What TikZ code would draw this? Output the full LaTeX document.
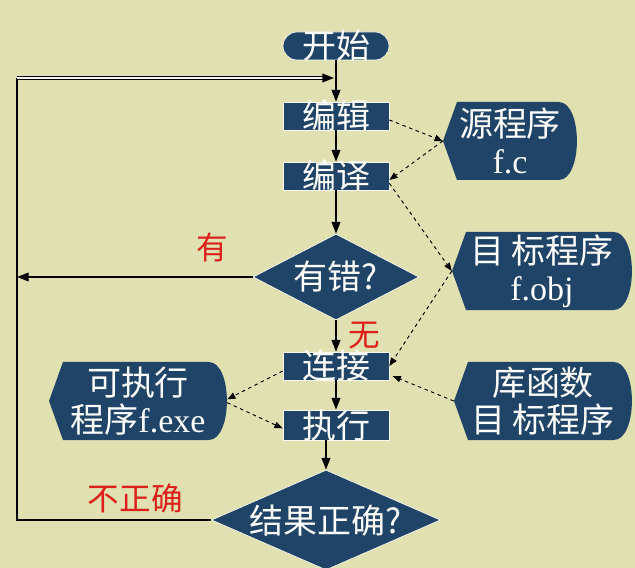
\documentclass[tikz,border=0pt]{standalone}
\usepackage{fontspec}
\setmainfont{Liberation Serif}
\newfontfamily\cjk{Noto Sans CJK SC}
\usetikzlibrary{calc,arrows.meta,shapes.geometric}
\definecolor{bg}{RGB}{224,224,176}
\definecolor{navy}{RGB}{31,68,104}
\definecolor{lblred}{RGB}{222,32,28}

\begin{document}
\begin{tikzpicture}[x=0.03cm,y=-0.03cm,
    every node/.style={font=\fontsize{29}{31.5}\selectfont\cjk,text=white},
    box/.style={rectangle,fill=navy,draw=white!80!bg,line width=0.6pt,
        minimum width=3.18cm,minimum height=0.84cm,inner sep=0pt,
        text height=0.79cm,text depth=0.01cm},
    dia/.style={diamond,aspect=2.2,fill=navy,draw=white!80!bg,line width=0.6pt,inner sep=0pt,
        text height=0.8cm,text depth=0.02cm},
    disp/.style={rectangle,minimum width=#1,minimum height=2.34cm,inner sep=0pt,align=center,
        path picture={
            \fill[navy] (path picture bounding box.west)
                -- ([xshift=0.42cm]path picture bounding box.north west)
                -- ([xshift=-0.55cm]path picture bounding box.north east)
                .. controls ([xshift=0.18cm]path picture bounding box.north east)
                and ([xshift=0.18cm]path picture bounding box.south east)
                .. ([xshift=-0.55cm]path picture bounding box.south east)
                -- ([xshift=0.42cm]path picture bounding box.south west) -- cycle;
        }},
    arr/.style={-{Triangle[length=10pt,width=7.5pt]},line width=1.1pt,black},
    darr/.style={-{Triangle[length=7pt,width=5.5pt]},line width=0.8pt,
        dash pattern=on 3pt off 3pt,black},
    dbl/.style={line width=0.7pt,double=white!70!bg,double distance=1.4pt},
    lbl/.style={text=lblred,inner sep=0pt,font=\fontsize{27}{30}\selectfont\cjk}]
    \fill[bg] (0,0) rectangle (635,568);
    \useasboundingbox (0,0) rectangle (635,568);

    % main column
    \node[box,rounded corners=0.42cm] (start) at (336,46) {开始};
    \node[box] (edit) at (336,116) {编辑};
    \node[box] (comp) at (336,176) {编译};
    \node[dia,minimum width=4.98cm,minimum height=2.58cm] (err) at (336,277) {有错?};
    \node[box] (link) at (336,366) {连接};
    \node[box,minimum height=0.9cm] (run) at (336,425) {执行};
    \node[dia,minimum width=6.87cm,minimum height=3cm] (chk) at (326,520) {结果正确?};

    % files
    \node[disp=4.02cm] (src) at (510,141) {源程序\\{\rmfamily f.c}};
    \node[disp=5.4cm] (obj) at (542,271) {目 标程序\\{\rmfamily f.obj}};
    \node[disp=5.34cm] (lib) at (543,401) {库函数\\目 标程序};
    \node[disp=5.34cm] (exe) at (138,401) {可执行\\程序{\rmfamily f.exe}};

    % loop back
    \coordinate (lt) at (17,78);
    \coordinate (lb) at (17,520);
    \coordinate (lj) at (334,78);

    \draw[arr] (start) -- (edit);
    \draw[arr] (edit) -- (comp);
    \draw[arr] (comp) -- (err);
    \draw[arr] (err) -- (link) node[lbl,midway,xshift=0.84cm] {无};
    \draw[arr] (link) -- (run);
    \draw[arr] (run.south -| chk) -- (chk);
    \draw[arr] (err) -- (err -| lt) node[lbl,pos=0.17,above=0.43cm] {有};
    \draw[line width=1.1pt] (chk) -- (lb) node[lbl,pos=0.39,above=0.19cm] {不正确} -- (lt);
    \draw[dbl,shorten >=5pt] (lt) -- (lj);
    \draw[arr] ([xshift=-6pt]lj) -- (lj);

    % data flow
    \draw[darr] ([yshift=-0.12cm]edit.east) -- (src.west);
    \draw[darr] (src.west) -- ([yshift=-0.12cm]comp.east);
    \draw[darr] ([yshift=-0.22cm]comp.east) -- (obj.west);
    \draw[darr] (obj.west) -- (link.east);
    \draw[darr] (lib.west) -- ([xshift=0.1cm,yshift=-0.3cm]link.east);
    \draw[darr] ([yshift=-0.15cm]link.west) -- ([yshift=0.05cm]exe.east);
    \draw[darr] ([yshift=-0.05cm]exe.east) -- ([yshift=-0.1cm]run.west);
\end{tikzpicture}
\end{document}
